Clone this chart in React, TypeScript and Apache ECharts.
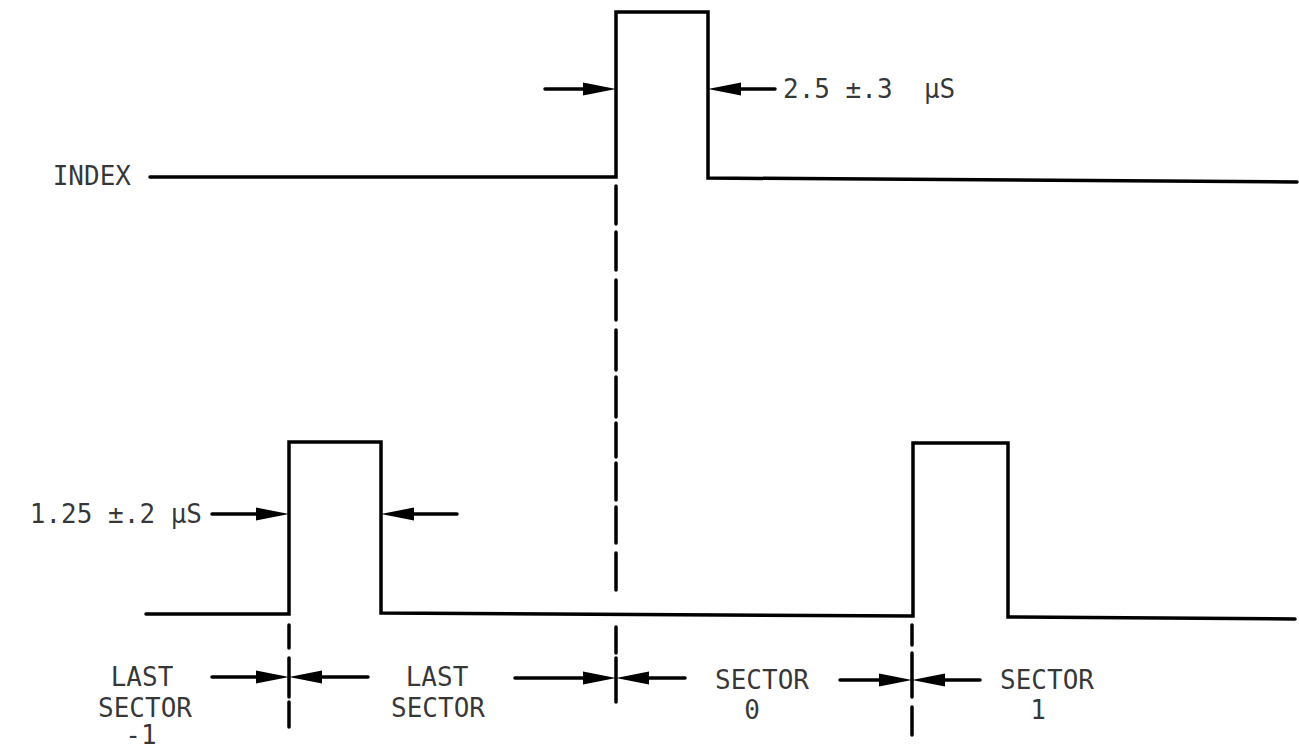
import React, { useEffect, useRef } from "react";
import * as echarts from "echarts";

// Waveforms: time positions (diagram units) and signal levels (diagram units, down = low)
const indexTimes = [150, 616, 616, 708, 708, 1297];
const indexLevels = [177, 177, 12, 12, 178, 182];
const sectorTimes = [146, 289, 289, 381, 381, 913, 913, 1008, 1008, 1295];
const sectorLevels = [614, 614, 442, 442, 613, 616, 443, 443, 617, 619];

// Dashed timing markers: [time, from, to]
const dashTimes = [289, 289, 289, 616, 616, 616, 616, 616, 616, 616, 616, 616, 616, 616, 912, 912, 912];
const dashFrom = [625, 658, 702, 186, 232, 280, 330, 377, 423, 463, 507, 553, 627, 658, 625, 653, 707];
const dashTo = [648, 697, 727, 224, 270, 320, 370, 417, 457, 500, 543, 590, 653, 702, 645, 697, 735];

// Dimension arrows: tail time, tip time, level
const arrowTails = [545, 775, 212, 457, 212, 368, 515, 685, 840, 980];
const arrowTips = [616, 708, 289, 381, 289, 289, 616, 616, 912, 912];
const arrowLevels = [89, 89, 514, 514, 677, 677, 678, 678, 680, 680];

// Text labels
const labelTexts = ["INDEX", "2.5 ±.3  μS", "1.25 ±.2 μS", "LAST", "SECTOR", "-1", "LAST", "SECTOR", "SECTOR", "0", "SECTOR", "1"];
const labelTimes = [131, 783, 202, 142, 145, 141, 437, 438, 762, 752, 1047, 1038];
const labelLevels = [176, 89, 514, 677, 708, 735, 677, 708, 680, 710, 680, 710];
const labelAligns = ["right", "left", "right", "center", "center", "center", "center", "center", "center", "center", "center", "center"];

const INK = "#000";
const FONT = '"DejaVu Sans Mono", monospace';

export default function App() {
  const ref = useRef<HTMLDivElement>(null);
  useEffect(() => {
    if (!ref.current) return;
    const chart = echarts.init(ref.current, null, { renderer: "svg" });
    const zip = (a: number[], b: number[]) => a.map((v, i) => [v, b[i]]);
    chart.setOption({
      animation: false,
      backgroundColor: "#fff",
      grid: { left: 0, right: 0, top: 0, bottom: 0 },
      xAxis: { type: "value", min: 0, max: 1299, show: false },
      yAxis: { type: "value", min: 0, max: 752, inverse: true, show: false },
      series: [
        {
          type: "line",
          data: zip(indexTimes, indexLevels),
          showSymbol: false,
          symbol: "none",
          lineStyle: { color: INK, width: 3.5, join: "miter", cap: "round" },
        },
        {
          type: "line",
          data: zip(sectorTimes, sectorLevels),
          showSymbol: false,
          symbol: "none",
          lineStyle: { color: INK, width: 3.5, join: "miter", cap: "round" },
        },
        {
          type: "custom",
          data: dashTimes.map((t, i) => [t, dashFrom[i], dashTo[i]]),
          encode: { x: 0, y: [1, 2] },
          renderItem: (params: any, api: any) => {
            const a = api.coord([api.value(0), api.value(1)]);
            const b = api.coord([api.value(0), api.value(2)]);
            return {
              type: "line",
              shape: { x1: a[0], y1: a[1], x2: b[0], y2: b[1] },
              style: { stroke: INK, lineWidth: 3.5, lineCap: "round" },
            };
          },
        },
        {
          type: "custom",
          data: arrowTails.map((t, i) => [t, arrowTips[i], arrowLevels[i]]),
          encode: { x: [0, 1], y: 2 },
          renderItem: (params: any, api: any) => {
            const tail = api.coord([api.value(0), api.value(2)]);
            const tip = api.coord([api.value(1), api.value(2)]);
            const dir = tip[0] > tail[0] ? 1 : -1;
            const base = tip[0] - dir * 33;
            return {
              type: "group",
              children: [
                {
                  type: "line",
                  shape: { x1: tail[0], y1: tail[1], x2: base, y2: tip[1] },
                  style: { stroke: INK, lineWidth: 3.5, lineCap: "round" },
                },
                {
                  type: "polygon",
                  shape: { points: [[tip[0], tip[1]], [base, tip[1] - 6.5], [base, tip[1] + 6.5]] },
                  style: { fill: INK },
                },
              ],
            };
          },
        },
        {
          type: "scatter",
          symbolSize: 1,
          itemStyle: { color: "rgba(0,0,0,0)" },
          data: labelTexts.map((txt, i) => ({
            value: [labelTimes[i], labelLevels[i]],
            label: {
              show: true,
              position: "inside",
              formatter: txt,
              align: labelAligns[i],
              verticalAlign: "middle",
              color: "#000",
              fontFamily: FONT,
              fontSize: 26,
            },
          })),
        },
      ],
    });
    return () => chart.dispose();
  }, []);
  return (
    <div
      ref={ref}
      style={{ position: "fixed", left: 0, top: 0, width: 1299, height: 752, background: "#fff" }}
    />
  );
}
